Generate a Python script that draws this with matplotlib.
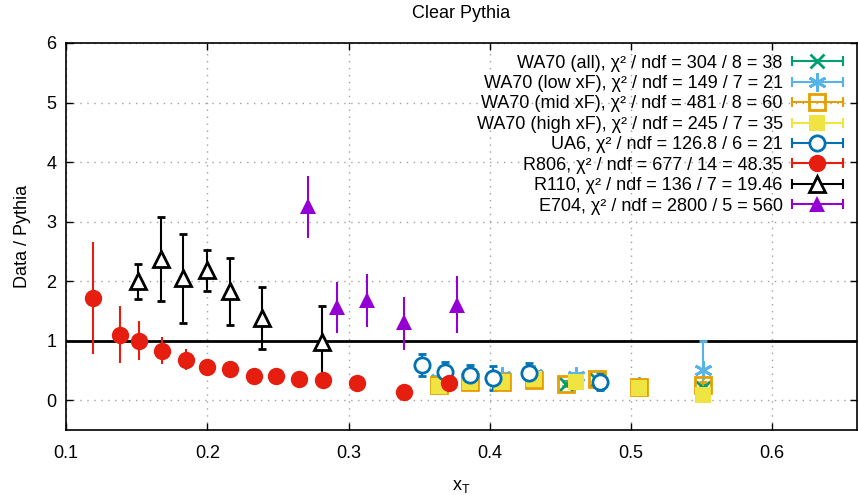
import numpy as np
import matplotlib
matplotlib.use("Agg")
import matplotlib.pyplot as plt
from matplotlib.lines import Line2D
from matplotlib.legend_handler import HandlerBase
from matplotlib.container import ErrorbarContainer

plt.rcParams['font.family'] = ['Liberation Sans', 'DejaVu Sans']
plt.rcParams['mathtext.fontset'] = 'custom'
plt.rcParams['mathtext.rm'] = 'Liberation Sans'
plt.rcParams['mathtext.it'] = 'Liberation Sans'

# WA70 (all)
wa_all_x = [0.364, 0.386, 0.409, 0.431, 0.454, 0.476, 0.506, 0.551]
wa_all_y = [0.28, 0.32, 0.32, 0.36, 0.28, 0.34, 0.21, 0.20]
wa_all_e = [0.04, 0.04, 0.04, 0.04, 0.04, 0.04, 0.04, 0.06]
# WA70 (low xF)
wa_low_x = [0.364, 0.386, 0.409, 0.431, 0.461, 0.506, 0.551]
wa_low_y = [0.36, 0.40, 0.40, 0.44, 0.40, 0.24, 0.50]
wa_low_e = [0.05, 0.05, 0.05, 0.05, 0.05, 0.05, 0.49]
# WA70 (mid xF)
wa_mid_x = [0.364, 0.386, 0.409, 0.431, 0.454, 0.476, 0.506, 0.551]
wa_mid_y = [0.26, 0.31, 0.30, 0.34, 0.27, 0.36, 0.22, 0.25]
wa_mid_e = [0.03, 0.03, 0.03, 0.03, 0.03, 0.03, 0.03, 0.05]
# WA70 (high xF)
wa_high_x = [0.364, 0.386, 0.409, 0.431, 0.461, 0.506, 0.551]
wa_high_y = [0.24, 0.30, 0.30, 0.36, 0.31, 0.20, 0.08]
wa_high_e = [0.03, 0.03, 0.03, 0.03, 0.03, 0.03, 0.03]
# UA6
ua6_x = [0.352, 0.368, 0.386, 0.402, 0.428, 0.478]
ua6_y = [0.60, 0.47, 0.42, 0.38, 0.46, 0.31]
ua6_lo = [0.40, 0.28, 0.22, 0.17, 0.26, 0.17]
ua6_hi = [0.78, 0.64, 0.60, 0.58, 0.62, 0.48]
# R806
r806_x = [0.119, 0.138, 0.152, 0.168, 0.185, 0.200, 0.216, 0.233, 0.249, 0.265, 0.282, 0.306, 0.339, 0.371]
r806_y = [1.71, 1.10, 1.00, 0.83, 0.67, 0.55, 0.52, 0.40, 0.40, 0.36, 0.34, 0.29, 0.13, 0.29]
r806_lo = [0.77, 0.63, 0.68, 0.61, 0.50, 0.50, 0.48, 0.37, 0.37, 0.33, 0.31, 0.26, 0.10, 0.26]
r806_hi = [2.65, 1.58, 1.33, 1.06, 0.86, 0.60, 0.56, 0.43, 0.43, 0.39, 0.37, 0.32, 0.16, 0.32]
# R110
r110_x = [0.151, 0.167, 0.183, 0.200, 0.216, 0.239, 0.281]
r110_y = [2.00, 2.37, 2.06, 2.19, 1.84, 1.38, 0.97]
r110_lo = [1.70, 1.66, 1.29, 1.83, 1.26, 0.86, 0.35]
r110_hi = [2.29, 3.08, 2.80, 2.52, 2.39, 1.90, 1.58]
# E704
e704_x = [0.271, 0.292, 0.313, 0.339, 0.377]
e704_y = [3.26, 1.56, 1.68, 1.31, 1.60]
e704_lo = [2.72, 1.13, 1.23, 0.84, 1.13]
e704_hi = [3.76, 1.98, 2.12, 1.73, 2.08]

labels = [
    'WA70 (all), χ² / ndf = 304 / 8 = 38',
    'WA70 (low xF), χ² / ndf = 149 / 7 = 21',
    'WA70 (mid xF), χ² / ndf = 481 / 8 = 60',
    'WA70 (high xF), χ² / ndf = 245 / 7 = 35',
    'UA6, χ² / ndf = 126.8 / 6 = 21',
    'R806, χ² / ndf = 677 / 14 = 48.35',
    'R110, χ² / ndf = 136 / 7 = 19.46',
    'E704, χ² / ndf = 2800 / 5 = 560',
]


class GnuplotErr(HandlerBase):
    # horizontal bar with end caps and marker in the middle, like gnuplot keys
    def create_artists(self, legend, orig, xdescent, ydescent, width, height, fontsize, trans):
        src = orig[0]
        c = src.get_color()
        y = height / 2 - ydescent
        x0, x1 = -xdescent, width - xdescent
        bar = Line2D([x0, x1], [y, y], color=c, lw=1.5)
        caps = Line2D([x0, x1], [y, y], ls='none', marker='|', ms=7, mew=1.5, color=c)
        mk = Line2D([(x0 + x1) / 2], [y], ls='none', marker=src.get_marker(),
                    ms=src.get_markersize(), mfc=src.get_markerfacecolor(),
                    mec=src.get_markeredgecolor(), mew=src.get_markeredgewidth())
        for a in (bar, caps, mk):
            a.set_transform(trans)
        return [bar, caps, mk]


fig = plt.figure(figsize=(8.58, 4.95), dpi=100)
ax = fig.add_axes([66 / 858, 65 / 495, 791 / 858, 387 / 495])

ax.axhline(1, color='black', lw=2, zorder=1)

kw = dict(ls='none', capsize=3, elinewidth=1.5, capthick=1.5)


def err(lo, y, hi):
    return [np.array(y) - np.array(lo), np.array(hi) - np.array(y)]


ax.errorbar(wa_all_x, wa_all_y, yerr=wa_all_e, marker='x', ms=10, mew=2,
            color='#009e73', label=labels[0], **kw)
ax.errorbar(wa_low_x, wa_low_y, yerr=wa_low_e, marker=(6, 2, 0), ms=13, mew=2,
            color='#56b4e9', label=labels[1], **kw)
ax.errorbar(wa_mid_x, wa_mid_y, yerr=wa_mid_e, marker='s', ms=11, mew=2, mfc='none',
            color='#e69f00', label=labels[2], **kw)
ax.errorbar(wa_high_x, wa_high_y, yerr=wa_high_e, marker='s', ms=12, mew=0,
            color='#f0e442', label=labels[3], **kw)
ax.errorbar(ua6_x, ua6_y, yerr=err(ua6_lo, ua6_y, ua6_hi), marker='o', ms=11, mew=2,
            mfc='white', color='#0072b2', label=labels[4], **kw)
ax.errorbar(r806_x, r806_y, yerr=err(r806_lo, r806_y, r806_hi), marker='o', ms=12.5, mew=0,
            color='#e51e10', label=labels[5], **kw)
ax.errorbar(r110_x, r110_y, yerr=err(r110_lo, r110_y, r110_hi), marker='^', ms=11, mew=2,
            mfc='white', color='black', label=labels[6], **kw)
ax.errorbar(e704_x, e704_y, yerr=err(e704_lo, e704_y, e704_hi), marker='^', ms=12, mew=0,
            color='#9400d3', label=labels[7], **kw)

ax.set_xlim(0.1, 0.66)
ax.set_ylim(-0.5, 6)
ax.set_xticks([0.1, 0.2, 0.3, 0.4, 0.5, 0.6])
ax.set_xticklabels(['0.1', '0.2', '0.3', '0.4', '0.5', '0.6'])
ax.set_yticks([0, 1, 2, 3, 4, 5, 6])
ax.grid(True, ls=(0, (1, 4)), color='#a0a0a0', lw=1)
ax.set_axisbelow(True)
ax.tick_params(direction='in', top=True, right=True, length=5, width=1,
               labelsize=13)
ax.tick_params(axis='x', pad=11)
ax.tick_params(axis='y', pad=7)
for s in ax.spines.values():
    s.set_linewidth(1.2)

ax.set_xlabel(r'x$_\mathrm{T}$', fontsize=13, labelpad=11)
ax.set_ylabel('Data / Pythia', fontsize=13, labelpad=11)
ax.set_title('Clear Pythia', fontsize=13, pad=18)

ax.legend(loc='upper right', bbox_to_anchor=(0.9823, 0.970), frameon=False,
          markerfirst=False, fontsize=13, handlelength=2.83, handletextpad=0.5,
          labelspacing=0.19, borderpad=0, borderaxespad=0,
          handler_map={ErrorbarContainer: GnuplotErr()})

fig.savefig('out.png', dpi=100)
